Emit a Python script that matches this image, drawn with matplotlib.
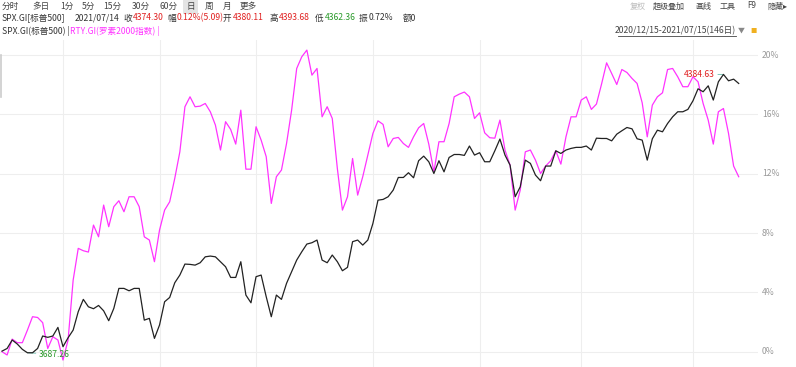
import matplotlib.pyplot as plt
import numpy as np

plt.rcParams["font.family"] = ["Noto Sans CJK SC", "DejaVu Sans"]

# cumulative change (%) since 2020/12/15
spx_pct = [
    0.04, 0.22, 0.79, 0.52, 0.16, -0.07, -0.07, 0.22, 1.06, 0.97,
    1.06, 1.64, 0.34, 0.94, 1.46, 2.70, 3.53, 3.03, 2.90, 3.12,
    2.76, 2.09, 2.92, 4.27, 4.27, 4.11, 4.27, 4.27, 2.13, 2.25,
    0.90, 1.80, 3.37, 3.66, 4.65, 5.17, 5.91, 5.89, 5.84, 6.00,
    6.40, 6.45, 6.40, 6.07, 5.73, 5.01, 5.01, 6.07, 3.82, 3.30,
    5.06, 5.17, 3.71, 2.36, 3.82, 3.53, 4.61, 5.39, 6.18, 6.74,
    7.26, 7.35, 7.53, 6.18, 6.00, 6.52, 6.07, 5.46, 5.69, 7.42,
    7.53, 7.19, 7.53, 8.65, 10.22, 10.27, 10.45, 10.90, 11.75, 11.75,
    12.07, 11.73, 12.88, 13.19, 12.81, 12.02, 12.88, 12.13, 13.10, 13.30,
    13.30, 13.24, 13.87, 13.26, 13.42, 12.81, 12.81, 13.55, 14.34, 13.26,
    12.58, 10.45, 11.12, 12.92, 12.70, 11.91, 11.53, 12.52, 12.52, 13.55,
    13.37, 13.60, 13.71, 13.78, 13.78, 13.87, 13.60, 14.40, 14.38, 14.38,
    14.22, 14.67, 14.90, 15.12, 15.03, 14.36, 14.27, 12.92, 14.36, 14.94,
    14.83, 15.39, 15.84, 16.18, 16.18, 16.34, 16.92, 17.73, 17.53, 17.93,
    16.97, 18.20, 18.70, 18.27, 18.38, 18.09,
]
rty_pct = [
    0.00, -0.22, 0.85, 0.61, 0.61, 1.46, 2.36, 2.31, 1.96, 0.22,
    1.01, 0.79, -0.56, 0.79, 4.83, 6.97, 6.81, 6.72, 8.54, 7.75,
    9.89, 8.43, 9.78, 10.18, 9.44, 10.45, 10.45, 9.78, 7.75, 7.53,
    6.07, 8.20, 9.55, 10.11, 11.69, 13.48, 16.52, 17.19, 16.52, 16.56,
    16.74, 16.18, 15.28, 13.60, 15.51, 14.99, 14.00, 16.29, 12.31, 12.31,
    15.17, 14.27, 13.15, 10.00, 11.80, 12.25, 14.04, 16.29, 19.10, 19.89,
    20.34, 18.65, 19.10, 15.84, 16.52, 15.73, 12.36, 9.55, 10.45, 13.03,
    10.56, 11.80, 13.26, 14.72, 15.57, 15.33, 13.82, 14.38, 14.45, 14.04,
    13.78, 14.49, 15.10, 15.39, 14.00, 12.13, 14.16, 14.16, 15.39, 17.19,
    17.37, 17.51, 17.19, 15.73, 16.11, 14.76, 14.43, 14.40, 15.62, 13.60,
    12.58, 9.55, 10.90, 13.48, 13.60, 12.92, 12.02, 12.52, 12.88, 13.55,
    12.65, 14.49, 15.84, 15.84, 16.97, 17.19, 16.34, 16.70, 18.04, 19.48,
    18.76, 18.02, 19.03, 18.83, 18.43, 18.09, 16.79, 14.49, 16.63, 17.19,
    17.46, 19.03, 19.10, 18.54, 17.87, 17.87, 18.54, 18.20, 16.74, 15.62,
    14.00, 16.18, 16.40, 14.72, 12.52, 11.80,
]
month_starts = [12, 31, 50, 73, 94, 114, 136]  # trading-day index of each month's first session
y_ticks = [0, 4, 8, 12, 16, 20]
spx_high_label = "4384.63"
spx_low_label = "3687.26"

W, H = 796, 367
FS = 6.2


def fx(x):
    return x / W


def fy(y):
    return 1 - y / H


fig = plt.figure(figsize=(W / 100, H / 100), dpi=100)
fig.patch.set_facecolor("white")

# ---- toolbar row ----
toolbar = [("分时", 2), ("多日", 32), ("1分", 60), ("5分", 82), ("15分", 103), ("30分", 132),
           ("60分", 160), ("日", 186), ("周", 205), ("月", 223), ("更多", 240)]
for label, x in toolbar:
    kw = {}
    if label == "日":
        kw["bbox"] = dict(boxstyle="square,pad=0.35", fc="#e4e4e4", ec="none")
    fig.text(fx(x), fy(6), label, fontsize=FS, color="#444444", va="center", **kw)

right_tools = [("复权", 630, "#bbbbbb"), ("超级叠加", 653, "#444444"), ("画线", 695, "#444444"),
               ("工具", 720, "#444444"), ("F9", 747, "#444444"), ("隐藏▸", 767, "#444444")]
for label, x, c in right_tools:
    fig.text(fx(x), fy(6), label, fontsize=5.8, color=c, va="center")

# ---- quote row ----
quote = [("SPX.GI[标普500]", 2, "#333333"), ("2021/07/14", 75, "#333333"),
         ("收", 123, "#333333"), ("4374.30", 133, "#e02020"),
         ("幅", 167, "#333333"), ("0.12%(5.09)", 177, "#e02020"),
         ("开", 223, "#333333"), ("4380.11", 233, "#e02020"),
         ("高", 269, "#333333"), ("4393.68", 279, "#e02020"),
         ("低", 315, "#333333"), ("4362.36", 325, "#2a9a2a"),
         ("振", 359, "#333333"), ("0.72%", 369, "#333333"), ("额0", 403, "#333333")]
for label, x, c in quote:
    fig.text(fx(x), fy(18), label, fontsize=FS, color=c, va="center")

# ---- legend row ----
fig.text(fx(2), fy(31), "SPX.GI(标普500) |", fontsize=FS, color="#333333", va="center")
fig.text(fx(70), fy(31), "RTY.GI(罗素2000指数) |", fontsize=FS, color="#ff33ff", va="center")
fig.text(fx(736), fy(31), "2020/12/15-2021/07/15(146日)", fontsize=FS, color="#444444",
         va="center", ha="right")
fig.lines.append(plt.Line2D([fx(618), fx(736)], [fy(36), fy(36)], color="#444444", lw=0.6,
                            transform=fig.transFigure))
fig.text(fx(738), fy(31), "▼", fontsize=5, color="#888888", va="center")
fig.text(fx(750), fy(31), "■", fontsize=4.5, color="#f0b020", va="center")

# ---- chart ----
ax = fig.add_axes([0, 0, 758 / W, (H - 40) / H])
x = np.arange(len(spx_pct))
ax.plot(x, rty_pct, color="#ff33ff", lw=0.9, zorder=3)
ax.plot(x, spx_pct, color="#222222", lw=0.9, zorder=4)

ax.set_xlim(-0.4, 148.8)
ax.set_ylim(-1.03, 21.02)
ax.set_yticks(y_ticks)
ax.set_xticks(month_starts)
ax.grid(True, color="#eeeeee", lw=0.8, zorder=0)
ax.tick_params(left=False, bottom=False, labelleft=False, labelbottom=False)
for s in ax.spines.values():
    s.set_visible(False)

for t in y_ticks:
    ax.text(1.005, t, f"{t}%", transform=ax.get_yaxis_transform(), fontsize=FS,
            color="#999999", va="center", ha="left", clip_on=False)

# high / low markers of SPX
hi = int(np.argmax(spx_pct))
lo = int(np.argmin(spx_pct))
ax.annotate(spx_high_label, xy=(hi, spx_pct[hi]), xytext=(-6, 0), textcoords="offset points",
            ha="right", va="center", fontsize=FS, color="#e02020",
            arrowprops=dict(arrowstyle="-", color="#66bbaa", lw=0.6, shrinkA=0, shrinkB=0))
ax.annotate(spx_low_label, xy=(lo, spx_pct[lo]), xytext=(8, -1), textcoords="offset points",
            ha="left", va="center", fontsize=FS, color="#2a9a2a",
            arrowprops=dict(arrowstyle="-", color="#66bbaa", lw=0.6, shrinkA=0, shrinkB=0))

# small scroll marker on the left edge
fig.lines.append(plt.Line2D([fx(0.5), fx(0.5)], [fy(55), fy(97)], color="#cccccc", lw=1.2,
                            transform=fig.transFigure))

fig.savefig("out.png", dpi=100)
